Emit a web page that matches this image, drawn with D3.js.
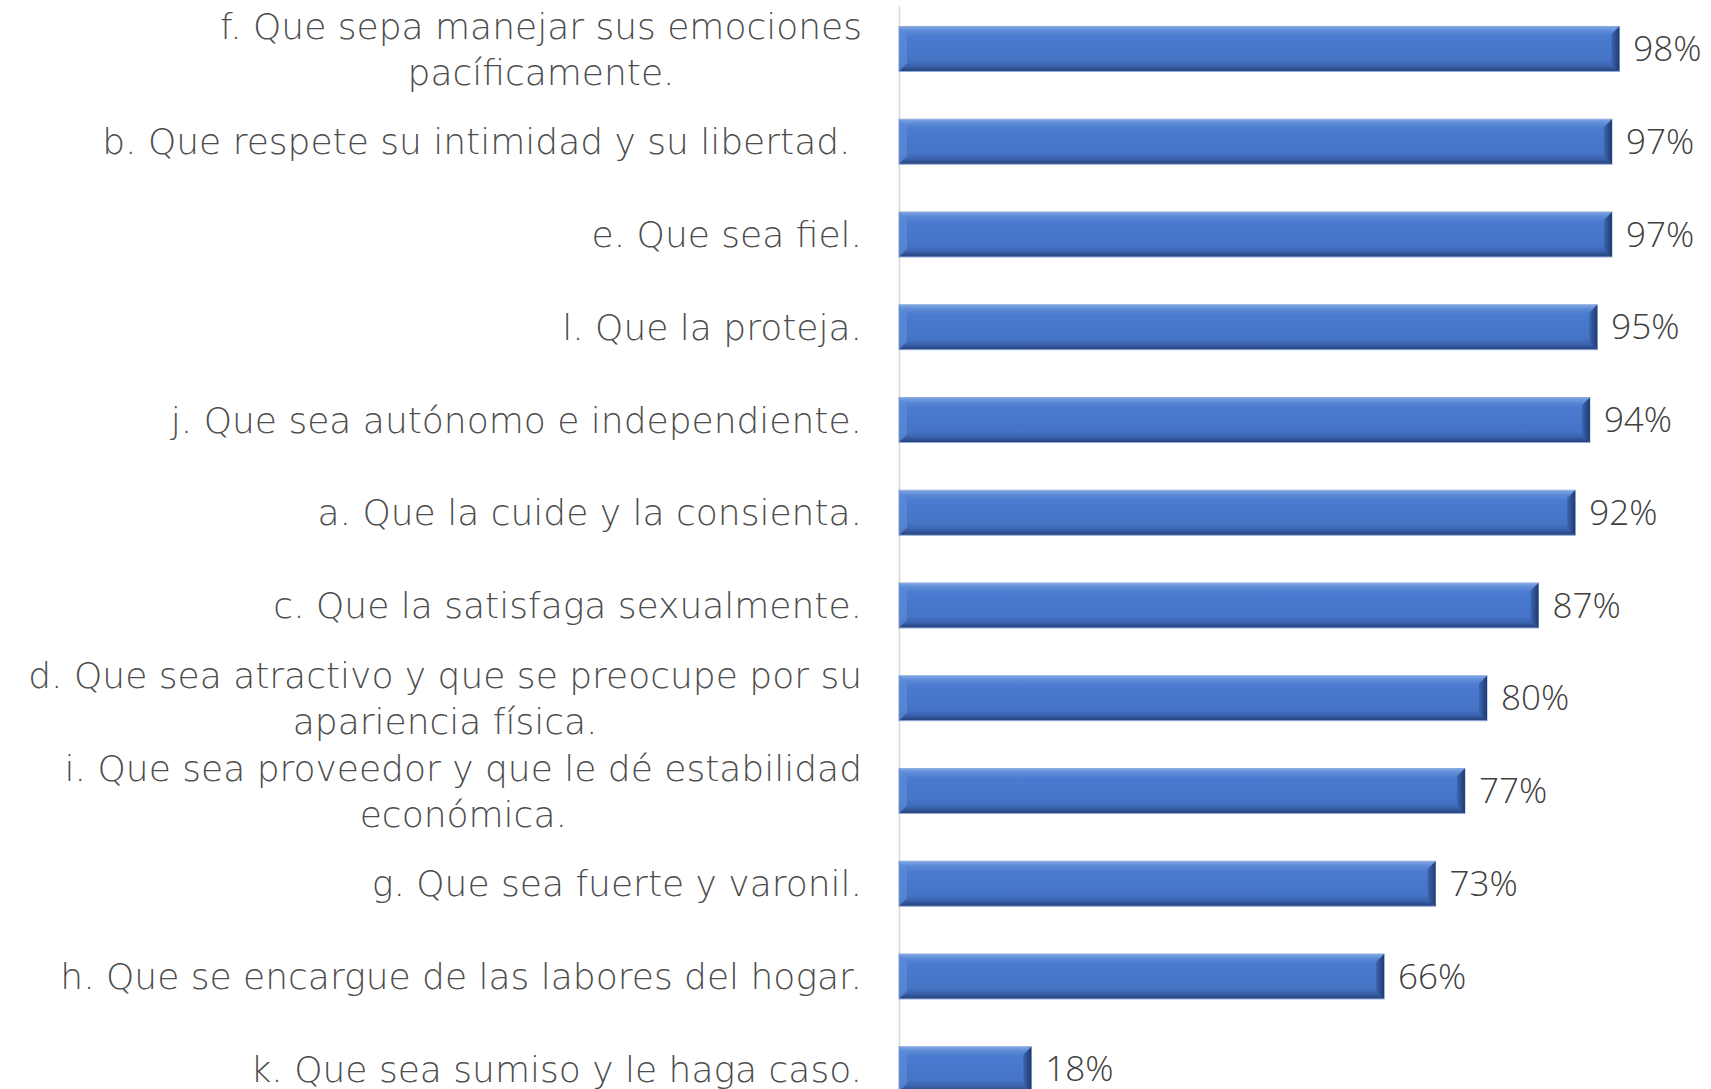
<!DOCTYPE html>
<html>
<head>
<meta charset="utf-8">
<script src="https://cdn.jsdelivr.net/npm/d3@7"></script>
<style>
  body { margin: 0; background: #fff; }
  svg { display: block; }
  .cat text { font-family: 'DejaVu Sans', sans-serif; font-weight: 200; fill: #4d4d4d; white-space: pre; }
  .val { font-family: 'Open Sans', sans-serif; font-weight: 300; fill: #404040; }
</style>
</head>
<body>
<div id="chart"></div>
<script>
const W = 1711;
const H = 1089;

// categories top to bottom, each entry is the wrapped lines of the label
const categories = [
  ['f. Que sepa manejar sus emociones', 'pacíficamente.'],
  ['b. Que respete su intimidad y su libertad. '],
  ['e. Que sea fiel.'],
  ['l. Que la proteja.'],
  ['j. Que sea autónomo e independiente.'],
  ['a. Que la cuide y la consienta.'],
  ['c. Que la satisfaga sexualmente.'],
  ['d. Que sea atractivo y que se preocupe por su', 'apariencia física.'],
  ['i. Que sea proveedor y que le dé estabilidad', 'económica.'],
  ['g. Que sea fuerte y varonil.'],
  ['h. Que se encargue de las labores del hogar.'],
  ['k. Que sea sumiso y le haga caso.']
];
const values = [98, 97, 97, 95, 94, 92, 87, 80, 77, 73, 66, 18];
const keys = categories.map(d => d[0]);

const axisX = 899;
const labelRight = 862;
const fontSize = 36;
const bevel = 8;

const x = d3.scaleLinear().domain([0, 100]).range([axisX, 1634]);
const y = d3.scaleBand()
  .domain(keys)
  .range([2.6, 1115.6])
  .paddingInner(0.515)
  .paddingOuter(0.2575);

const svg = d3.select('#chart').append('svg')
  .attr('width', W)
  .attr('height', H);

// gradients for the bevelled bars
const defs = svg.append('defs');
const body = defs.append('linearGradient')
  .attr('id', 'bar-body')
  .attr('x1', '0%').attr('y1', '0%').attr('x2', '0%').attr('y2', '100%');
[[0, '#7ea6e6'], [0.1, '#5d8ad6'], [0.22, '#4a7bd0'], [0.75, '#4574c6'], [0.88, '#3a62ad'], [1, '#243f75']]
  .forEach(s => body.append('stop').attr('offset', s[0]).attr('stop-color', s[1]));

const endGrad = defs.append('linearGradient')
  .attr('id', 'bar-end')
  .attr('x1', '0%').attr('y1', '0%').attr('x2', '100%').attr('y2', '0%');
[[0, '#3d66b3'], [1, '#1f3a6e']]
  .forEach(s => endGrad.append('stop').attr('offset', s[0]).attr('stop-color', s[1]));

// axis line
svg.append('line')
  .attr('x1', axisX + 0.5).attr('x2', axisX + 0.5)
  .attr('y1', 6).attr('y2', H)
  .attr('stroke', '#d9d9d9')
  .attr('stroke-width', 1.5);

const rows = svg.selectAll('.row')
  .data(values.map((v, i) => ({ key: keys[i], lines: categories[i], value: v })))
  .enter().append('g')
  .attr('class', 'row')
  .attr('transform', d => `translate(0, ${y(d.key)})`);

const bh = y.bandwidth();

rows.append('rect')
  .attr('x', x(0))
  .attr('y', 0)
  .attr('width', d => x(d.value) - x(0))
  .attr('height', bh)
  .attr('fill', 'url(#bar-body)')
  .attr('stroke', '#8eaadb')
  .attr('stroke-width', 1);

// dark right end (chamfer)
rows.append('polygon')
  .attr('points', d => {
    const r = x(d.value);
    return `${r - bevel},${bevel} ${r},0 ${r},${bh} ${r - bevel},${bh - bevel}`;
  })
  .attr('fill', 'url(#bar-end)');

// light left end
rows.append('polygon')
  .attr('points', d => {
    const l = x(0);
    return `${l},0 ${l + bevel},${bevel} ${l + bevel},${bh - bevel} ${l},${bh}`;
  })
  .attr('fill', '#5f8bd6')
  .attr('opacity', 0.7);

rows.append('text')
  .attr('class', 'val')
  .attr('x', d => x(d.value) + 14)
  .attr('y', bh / 2)
  .attr('dy', '0.35em')
  .style('font-size', '35px')
  .text(d => d.value + '%');

// category labels: block right-aligned, lines centred in block
const cat = rows.append('g').attr('class', 'cat');
cat.each(function (d) {
  const g = d3.select(this);
  const n = d.lines.length;
  const lineH = 46;
  const texts = d.lines.map((t, i) => g.append('text')
    .attr('y', bh / 2 + (i - (n - 1) / 2) * lineH)
    .attr('dy', '0.35em')
    .style('font-size', fontSize + 'px')
    .text(t));
  if (n === 1) {
    texts[0].attr('x', labelRight).attr('text-anchor', 'end');
  } else {
    const wMax = d3.max(texts, t => t.node().getComputedTextLength());
    texts.forEach(t => t.attr('x', labelRight - wMax / 2).attr('text-anchor', 'middle'));
  }
});
</script>
</body>
</html>
